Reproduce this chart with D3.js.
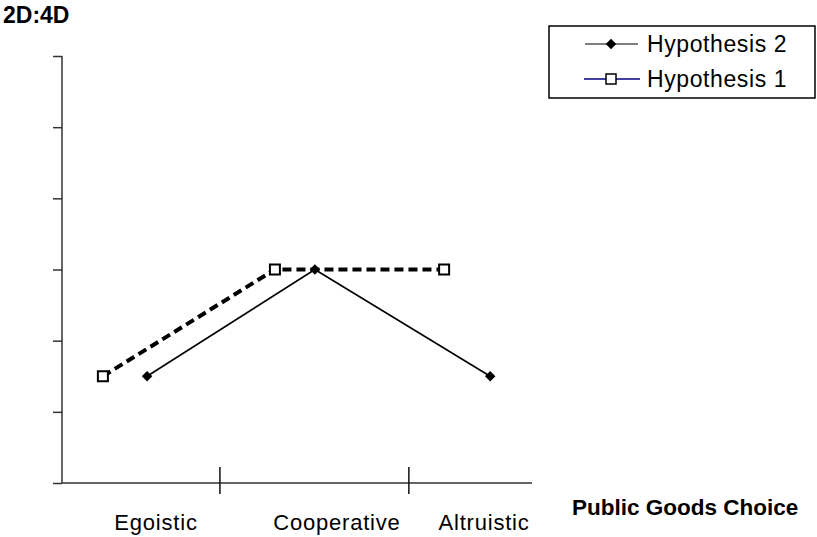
<!DOCTYPE html>
<html>
<head>
<meta charset="utf-8">
<script src="https://cdn.jsdelivr.net/npm/d3@7"></script>
<style>
  body { margin: 0; background: #fff; overflow: hidden; }
  svg { display: block; }
  text { font-family: "Liberation Sans", Arial, sans-serif; }
</style>
</head>
<body>
<script>
// data
const categories = ["Egoistic", "Cooperative", "Altruistic"];
const categoryLabelX = [2.0, 5.85, 8.98];
const categoryBounds = [3.36, 7.38];
const yTicks = [0, 1, 2, 3, 4, 5, 6];
const hyp1X = [0.87, 4.53, 8.13];
const hyp1Y = [1.5, 3, 3];
const hyp2X = [1.81, 5.38, 9.11];
const hyp2Y = [1.5, 3, 1.5];
const seriesNames = ["Hypothesis 2", "Hypothesis 1"];

const width = 817, height = 537;
const svg = d3.select("body").append("svg")
    .attr("width", width)
    .attr("height", height);

const xScale = d3.scaleLinear().domain([0, 10]).range([62, 532]),
      yScale = d3.scaleLinear().domain([0, 6]).range([483, 56]);

// y axis
const yAxis = svg.append("g")
    .attr("transform", "translate(62,0)")
    .call(d3.axisLeft(yScale).tickValues(yTicks).tickSize(9).tickFormat(""));
yAxis.select(".domain").attr("d", "M0," + yScale(6) + "V" + yScale(0));
yAxis.selectAll("line, path").attr("stroke", "#333").attr("stroke-width", 1.5);

// x axis line
svg.append("line")
    .attr("x1", xScale(0)).attr("x2", xScale(10))
    .attr("y1", yScale(0)).attr("y2", yScale(0))
    .attr("stroke", "#333").attr("stroke-width", 1.5);

// category separators
svg.selectAll("line.sep")
   .data(categoryBounds)
   .enter()
   .append("line")
   .attr("class", "sep")
   .attr("x1", d => xScale(d)).attr("x2", d => xScale(d))
   .attr("y1", yScale(0) - 16).attr("y2", yScale(0) + 11)
   .attr("stroke", "#111").attr("stroke-width", 1.5);

// category labels
svg.selectAll("text.cat")
   .data(categories)
   .enter()
   .append("text")
   .attr("class", "cat")
   .attr("x", (d, i) => xScale(categoryLabelX[i]))
   .attr("y", 530)
   .attr("text-anchor", "middle")
   .attr("font-size", 22)
   .attr("letter-spacing", 0.8)
   .text(d => d);

// titles
svg.append("text")
   .attr("x", 3).attr("y", 23)
   .attr("font-size", 23).attr("font-weight", "bold")
   .text("2D:4D");
svg.append("text")
   .attr("x", 572).attr("y", 515)
   .attr("font-size", 22.5).attr("font-weight", "bold")
   .text("Public Goods Choice");

// lines
const line = d3.line().x(d => xScale(d[0])).y(d => yScale(d[1]));
const hyp1 = hyp1X.map((x, i) => [x, hyp1Y[i]]);
const hyp2 = hyp2X.map((x, i) => [x, hyp2Y[i]]);

svg.append("path")
   .attr("d", line(hyp2))
   .attr("fill", "none")
   .attr("stroke", "#000")
   .attr("stroke-width", 1.6);

svg.append("path")
   .attr("d", line(hyp1))
   .attr("fill", "none")
   .attr("stroke", "#000")
   .attr("stroke-width", 4)
   .attr("stroke-dasharray", "9,5");

// markers
const diamond = d3.symbol().type(d3.symbolDiamond2).size(70);
svg.selectAll("path.h2")
   .data(hyp2)
   .enter()
   .append("path")
   .attr("class", "h2")
   .attr("d", diamond)
   .attr("transform", d => "translate(" + xScale(d[0]) + "," + yScale(d[1]) + ")")
   .attr("fill", "#000");

svg.selectAll("rect.h1")
   .data(hyp1)
   .enter()
   .append("rect")
   .attr("class", "h1")
   .attr("x", d => xScale(d[0]) - 5)
   .attr("y", d => yScale(d[1]) - 5)
   .attr("width", 10).attr("height", 10)
   .attr("fill", "#fff")
   .attr("stroke", "#000")
   .attr("stroke-width", 2);

// legend
const legend = svg.append("g");
legend.append("rect")
    .attr("x", 549).attr("y", 26)
    .attr("width", 266).attr("height", 72)
    .attr("fill", "#fff")
    .attr("stroke", "#000")
    .attr("stroke-width", 1.5);

const legY = [44, 79];
legend.append("line")
    .attr("x1", 585).attr("x2", 638).attr("y1", legY[0]).attr("y2", legY[0])
    .attr("stroke", "#000").attr("stroke-width", 1.2);
legend.append("path")
    .attr("d", diamond)
    .attr("transform", "translate(611," + legY[0] + ")")
    .attr("fill", "#000");
legend.append("line")
    .attr("x1", 584).attr("x2", 640).attr("y1", legY[1]).attr("y2", legY[1])
    .attr("stroke", "#000080").attr("stroke-width", 1.5);
legend.append("rect")
    .attr("x", 606).attr("y", legY[1] - 5)
    .attr("width", 10).attr("height", 10)
    .attr("fill", "#fff").attr("stroke", "#000").attr("stroke-width", 1.5);

legend.selectAll("text")
    .data(seriesNames)
    .enter()
    .append("text")
    .attr("x", 647)
    .attr("y", (d, i) => legY[i] + 8)
    .attr("font-size", 23)
    .attr("letter-spacing", 0.6)
    .text(d => d);
</script>
</body>
</html>
